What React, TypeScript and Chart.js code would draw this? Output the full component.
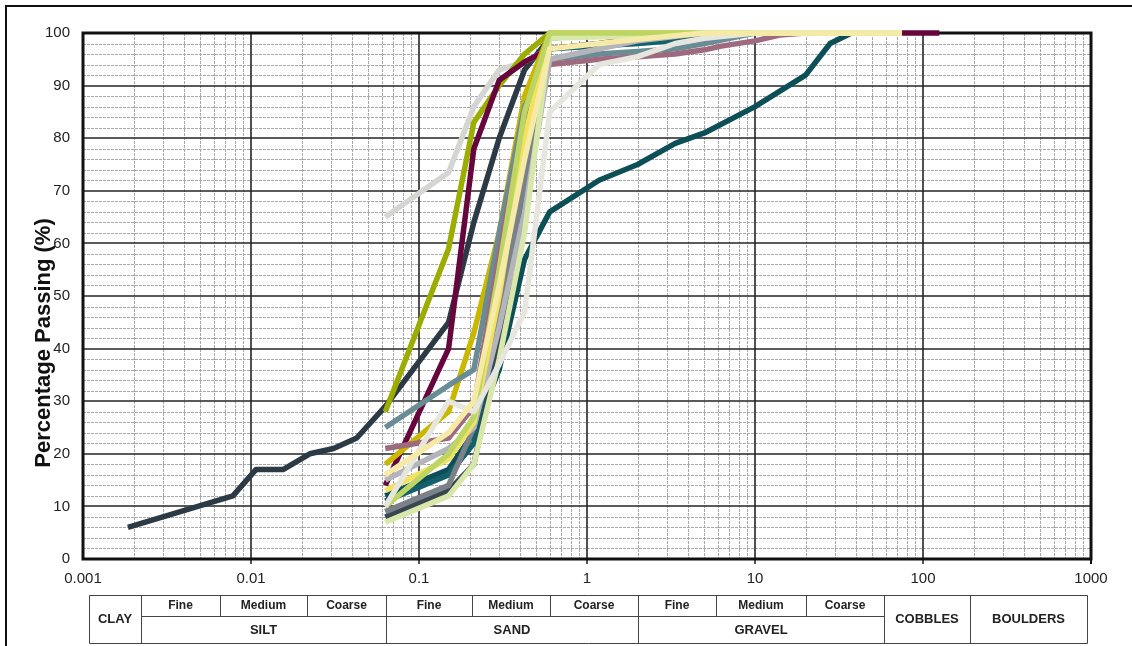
import { useEffect, useRef } from "react";
import { Chart, registerables } from "chart.js";

Chart.register(...registerables);

// ---------- axis ticks ----------
const xTickValues = [0.001, 0.01, 0.1, 1, 10, 100, 1000];
const xTickLabels = ["0.001", "0.01", "0.1", "1", "10", "100", "1000"];
const yTickValues = [0, 10, 20, 30, 40, 50, 60, 70, 80, 90, 100];

// ---------- table labels ----------
const tableSubLabels = ["Fine", "Medium", "Coarse"];
const tableMainLabels = ["SILT", "SAND", "GRAVEL"];
const tableSideLabels = ["CLAY", "COBBLES", "BOULDERS"];
const yAxisTitle = "Percentage Passing (%)";

// ---------- series (particle size mm, % passing) ----------
const lightYellowSize = [0.063, 0.15, 0.212, 0.3, 0.425, 0.6, 1.18, 2, 3.35, 5, 75];
const lightYellowPass = [16, 24, 30, 52, 76, 97, 98, 98.8, 99.5, 100, 100];

const offWhiteSize = [0.063, 0.15, 0.212, 0.3, 0.425, 0.6, 1.18, 2, 3.35, 5, 10, 75];
const offWhitePass = [10, 30, 28, 37, 47, 85, 94, 95.5, 98, 99, 100, 100];

const yellowGreenSize = [0.063, 0.15, 0.212, 0.3, 0.425, 0.6, 75];
const yellowGreenPass = [10, 20, 27, 55, 85, 100, 100];

const paleGreenSize = [0.063, 0.15, 0.212, 0.3, 0.425, 0.6, 2, 5, 75];
const paleGreenPass = [7, 12, 18, 38, 62, 99, 99.5, 100, 100];

const brightYellowSize = [0.063, 0.15, 0.212, 0.3, 0.425, 0.6, 75];
const brightYellowPass = [13, 19, 26, 50, 80, 100, 100];

const silverSize = [0.063, 0.15, 0.212, 0.3, 0.425, 0.6, 1.18, 2, 5, 75];
const silverPass = [15, 21, 25, 44, 66, 95, 97, 98.5, 100, 100];

const mauveSize = [0.063, 0.15, 0.212, 0.3, 0.425, 0.6, 1.18, 2, 3.35, 5, 6.3, 10, 14, 20, 75];
const mauvePass = [21, 23, 29, 58, 84, 94, 95, 95.5, 96, 96.8, 97.5, 98.5, 99.6, 100, 100];

const steelSize = [0.063, 0.15, 0.212, 0.3, 0.425, 0.6, 1.18, 2, 3.35, 5, 10, 75];
const steelPass = [25, 33, 36, 62, 86, 95, 96, 96.5, 97, 98, 100, 100];

const mustardSize = [0.063, 0.15, 0.212, 0.3, 0.425, 0.6, 75];
const mustardPass = [18, 28, 43, 62, 88, 100, 100];

const graySize = [0.063, 0.15, 0.212, 0.3, 0.425, 0.6, 1.18, 75];
const grayPass = [9, 14, 25, 46, 72, 99, 100, 100];

const darkNavySize = [0.063, 0.15, 0.212, 0.3, 0.425, 0.6, 75];
const darkNavyPass = [8, 13, 18, 40, 66, 100, 100];

const tealSize = [0.063, 0.15, 0.212, 0.3, 0.425, 0.6, 2, 5, 10, 75];
const tealPass = [11, 16, 22, 42, 70, 97, 98, 99, 100, 100];

const deepTealSize = [0.063, 0.15, 0.212, 0.3, 0.425, 0.6, 1.18, 2, 3.35, 5, 10, 20, 28, 37.5, 75];
const deepTealPass = [12, 17, 24, 36, 57, 66, 72, 75, 79, 81, 86, 92, 98, 100, 100];

const maroonSize = [0.063, 0.15, 0.212, 0.3, 0.425, 0.6, 1.18, 2, 5, 75, 125];
const maroonPass = [14, 40, 78, 91, 94.5, 97, 98, 99, 100, 100, 100];

const oliveSize = [0.063, 0.15, 0.212, 0.3, 0.425, 0.6, 75];
const olivePass = [28, 59, 83, 90, 96, 100, 100];

const lightGraySize = [0.063, 0.15, 0.212, 0.3, 0.425, 0.6, 2, 5, 10, 75];
const lightGrayPass = [65, 73.5, 86, 93, 94.5, 97, 98, 99, 100, 100];

const darkSlateSize = [0.00185, 0.0078, 0.0107, 0.0155, 0.0224, 0.031, 0.0426, 0.063, 0.15, 0.212, 0.3, 0.425, 0.6, 1.18, 75];
const darkSlatePass = [6, 12, 17, 17, 20, 21, 23, 29, 45, 64, 80, 93, 99, 100, 100];

const seriesList = [
  { size: lightYellowSize, pass: lightYellowPass, color: "#f5eba6" },
  { size: offWhiteSize, pass: offWhitePass, color: "#e6e6df" },
  { size: yellowGreenSize, pass: yellowGreenPass, color: "#bdd663" },
  { size: paleGreenSize, pass: paleGreenPass, color: "#d8e8aa" },
  { size: brightYellowSize, pass: brightYellowPass, color: "#f3e25e" },
  { size: silverSize, pass: silverPass, color: "#b3b5bb" },
  { size: mauveSize, pass: mauvePass, color: "#9e6a80" },
  { size: steelSize, pass: steelPass, color: "#6a8d95" },
  { size: mustardSize, pass: mustardPass, color: "#c9b700" },
  { size: graySize, pass: grayPass, color: "#7a8189" },
  { size: darkNavySize, pass: darkNavyPass, color: "#37464f" },
  { size: tealSize, pass: tealPass, color: "#13606a" },
  { size: deepTealSize, pass: deepTealPass, color: "#0d4f57" },
  { size: maroonSize, pass: maroonPass, color: "#66063d" },
  { size: oliveSize, pass: olivePass, color: "#9aad00" },
  { size: lightGraySize, pass: lightGrayPass, color: "#d5d5d1" },
  { size: darkSlateSize, pass: darkSlatePass, color: "#2b3a44" },
];

const FONT = '"Liberation Sans", Arial, sans-serif';

const gridPlugin = {
  id: "soilGrid",
  beforeDatasetsDraw(chart: any) {
    const { ctx, chartArea: a } = chart;
    const xs = chart.scales.x;
    const ys = chart.scales.y;
    ctx.save();
    // minor grid
    ctx.strokeStyle = "#a8a8a8";
    ctx.lineWidth = 1;
    ctx.setLineDash([3, 1]);
    ctx.beginPath();
    for (let d = 0; d < xTickValues.length - 1; d++) {
      for (let m = 2; m <= 9; m++) {
        const px = Math.round(xs.getPixelForValue(m * xTickValues[d])) + 0.5;
        ctx.moveTo(px, a.top);
        ctx.lineTo(px, a.bottom);
      }
    }
    for (let p = 2; p < 100; p += 2) {
      if (p % 10 === 0) continue;
      const py = Math.round(ys.getPixelForValue(p)) + 0.5;
      ctx.moveTo(a.left, py);
      ctx.lineTo(a.right, py);
    }
    ctx.stroke();
    ctx.setLineDash([]);
    // major grid
    ctx.strokeStyle = "#262626";
    ctx.lineWidth = 1.6;
    ctx.beginPath();
    for (let d = 1; d < xTickValues.length - 1; d++) {
      const px = Math.round(xs.getPixelForValue(xTickValues[d]));
      ctx.moveTo(px, a.top);
      ctx.lineTo(px, a.bottom + 5);
    }
    for (let i = 1; i < yTickValues.length - 1; i++) {
      const py = Math.round(ys.getPixelForValue(yTickValues[i]));
      ctx.moveTo(a.left, py);
      ctx.lineTo(a.right, py);
    }
    ctx.stroke();
    // frame
    ctx.strokeStyle = "#111";
    ctx.lineWidth = 3;
    ctx.strokeRect(a.left, a.top, a.right - a.left, a.bottom - a.top);
    ctx.lineWidth = 2;
    ctx.beginPath();
    ctx.moveTo(a.right, a.bottom);
    ctx.lineTo(a.right, a.bottom + 5);
    ctx.stroke();
    ctx.restore();
  },
  afterDraw(chart: any) {
    const { ctx } = chart;
    ctx.save();
    // outer frame
    ctx.strokeStyle = "#111";
    ctx.lineWidth = 2;
    ctx.beginPath();
    ctx.moveTo(6, 646);
    ctx.lineTo(6, 6);
    ctx.lineTo(1132, 6);
    ctx.stroke();

    // y-axis title
    ctx.fillStyle = "#111";
    ctx.font = `bold 22px ${FONT}`;
    ctx.textAlign = "center";
    ctx.textBaseline = "alphabetic";
    ctx.translate(50, 343);
    ctx.rotate(-Math.PI / 2);
    ctx.fillText(yAxisTitle, 0, 0);
    ctx.setTransform(1, 0, 0, 1, 0, 0);

    // classification table
    const L = 89, R = 1087, T = 595, M = 616, B = 643;
    const groupEdges = [141, 386, 638, 884];
    const subEdges = [220, 307, 472, 550, 716, 806];
    ctx.strokeStyle = "#444";
    ctx.lineWidth = 1;
    ctx.beginPath();
    ctx.rect(L + 0.5, T + 0.5, R - L, B - T);
    ctx.moveTo(141, M + 0.5);
    ctx.lineTo(884, M + 0.5);
    [141, 386, 638, 884, 970].forEach((x) => {
      ctx.moveTo(x + 0.5, T);
      ctx.lineTo(x + 0.5, B);
    });
    subEdges.forEach((x) => {
      ctx.moveTo(x + 0.5, T);
      ctx.lineTo(x + 0.5, M);
    });
    ctx.stroke();

    ctx.fillStyle = "#222";
    ctx.textAlign = "center";
    ctx.textBaseline = "middle";
    ctx.font = `bold 12px ${FONT}`;
    const subCols = [141, 220, 307, 386, 472, 550, 638, 716, 806, 884];
    for (let g = 0; g < 3; g++) {
      for (let s = 0; s < 3; s++) {
        const x0 = subCols[g * 3 + s];
        const x1 = subCols[g * 3 + s + 1];
        ctx.fillText(tableSubLabels[s], (x0 + x1) / 2, 605.5);
      }
    }
    ctx.font = `bold 13px ${FONT}`;
    for (let g = 0; g < 3; g++) {
      ctx.fillText(tableMainLabels[g], (groupEdges[g] + groupEdges[g + 1]) / 2, 630);
    }
    ctx.fillText(tableSideLabels[0], (L + 141) / 2, 619.5);
    ctx.fillText(tableSideLabels[1], (884 + 970) / 2, 619.5);
    ctx.fillText(tableSideLabels[2], (970 + R) / 2, 619.5);
    ctx.restore();
  },
};

export default function App() {
  const ref = useRef<HTMLCanvasElement | null>(null);

  useEffect(() => {
    if (!ref.current) return;
    const datasets = seriesList.map((s) => ({
      data: s.size.map((v, i) => ({ x: v, y: s.pass[i] })),
      borderColor: s.color,
      backgroundColor: s.color,
      borderWidth: 5.5,
      pointRadius: 0,
      tension: 0,
      fill: false,
      clip: false as any,
      borderCapStyle: "butt" as const,
      borderJoinStyle: "round" as const,
    }));
    const chart = new Chart(ref.current, {
      type: "line",
      data: { datasets },
      options: {
        responsive: false,
        animation: false,
        devicePixelRatio: 1,
        layout: { padding: { top: 33, right: 41, left: 0, bottom: 0 } },
        plugins: { legend: { display: false }, tooltip: { enabled: false } },
        scales: {
          x: {
            type: "logarithmic",
            min: 0.001,
            max: 1000,
            grid: { display: false, drawTicks: false },
            border: { display: false },
            afterBuildTicks: (s: any) => {
              s.ticks = xTickValues.map((v) => ({ value: v }));
            },
            afterFit: (s: any) => {
              s.height = 87;
            },
            ticks: {
              autoSkip: false,
              maxRotation: 0,
              padding: 11,
              color: "#222",
              font: { family: FONT, size: 15 },
              callback: (v: any) => {
                const i = xTickValues.indexOf(Number(v));
                return i >= 0 ? xTickLabels[i] : "";
              },
            },
          },
          y: {
            type: "linear",
            min: 0,
            max: 100,
            grid: { display: false, drawTicks: false },
            border: { display: false },
            afterBuildTicks: (s: any) => {
              s.ticks = yTickValues.map((v) => ({ value: v }));
            },
            afterFit: (s: any) => {
              s.width = 83;
            },
            ticks: {
              padding: 13,
              color: "#222",
              font: { family: FONT, size: 15 },
            },
          },
        },
      },
      plugins: [gridPlugin],
    });
    return () => chart.destroy();
  }, []);

  return (
    <canvas
      ref={ref}
      width={1132}
      height={646}
      style={{ position: "absolute", left: 0, top: 0, width: 1132, height: 646, background: "#fff" }}
    />
  );
}
